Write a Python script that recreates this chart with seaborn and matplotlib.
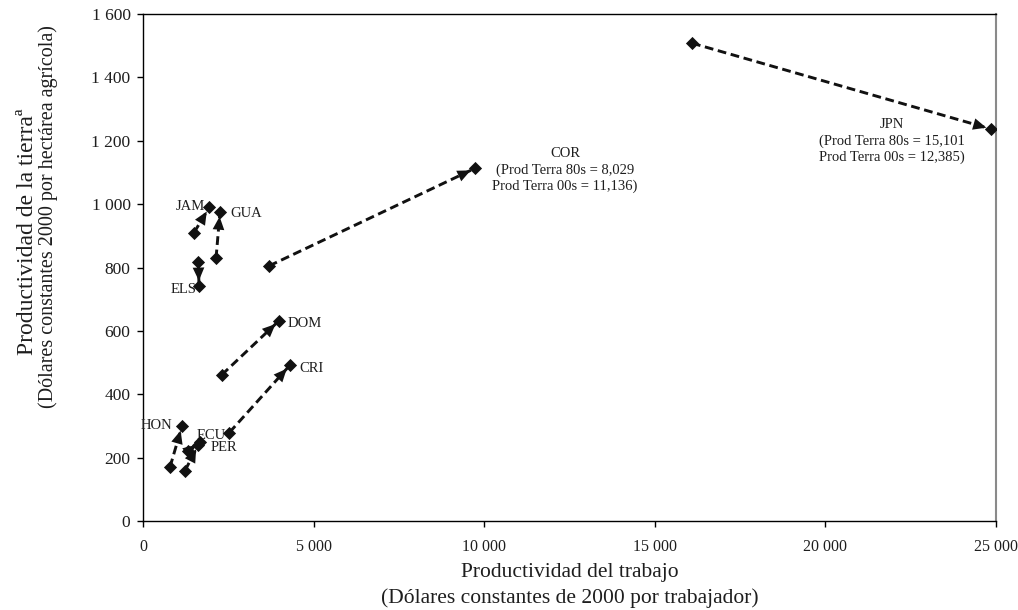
import matplotlib
matplotlib.use("Agg")
import matplotlib.pyplot as plt
from matplotlib.ticker import FuncFormatter, FixedLocator
import pandas as pd
import seaborn as sns

# Country codes and productivity in the 1980s and the 2000s
countries = ["JPN", "COR", "JAM", "GUA", "ELS", "DOM", "CRI", "HON", "ECU", "PER"]
labor_80s = [16090, 3693, 1495, 2140, 1622, 2306, 2530, 791, 1328, 1231]
land_80s = [1508, 805, 910, 829, 818, 461, 279, 170, 221, 159]
labor_00s = [24853, 9731, 1943, 2257, 1641, 3986, 4309, 1143, 1671, 1622]
land_00s = [1237, 1113, 990, 976, 743, 632, 492, 300, 250, 240]

x_ticks = [0, 5000, 10000, 15000, 20000, 25000]
y_ticks = [0, 200, 400, 600, 800, 1000, 1200, 1400, 1600]

# Countries whose land productivity falls outside the vertical range
notes = {
    "COR": "COR\n(Prod Terra 80s = 8,029\nProd Terra 00s = 11,136)",
    "JPN": "JPN\n(Prod Terra 80s = 15,101\nProd Terra 00s = 12,385)",
}

# Label anchor (data units) and horizontal alignment
label_pos = {
    "HON": (860, 300, "right"),
    "ECU": (1583, 270, "left"),
    "PER": (1990, 232, "left"),
    "JAM": (1817, 992, "right"),
    "GUA": (2550, 969, "left"),
    "ELS": (1574, 729, "right"),
    "DOM": (4250, 622, "left"),
    "CRI": (4572, 480, "left"),
    "COR": (12370, 1107, "center"),
    "JPN": (21950, 1199, "center"),
}

rows = []
for c, x0, y0, x1, y1 in zip(countries, labor_80s, land_80s, labor_00s, land_00s):
    rows.append({"country": c, "period": "80s", "labor": x0, "land": y0})
    rows.append({"country": c, "period": "00s", "labor": x1, "land": y1})
df = pd.DataFrame(rows)

sns.set_theme(style="white")
plt.rcParams["font.family"] = ["Liberation Serif", "DejaVu Serif"]
ink = "#111111"
text_col = "#1e1e1e"

fig = plt.figure(figsize=(10.18, 6.10), dpi=100)
ax = fig.add_axes([143 / 1018, 1 - 521 / 610, (996 - 143) / 1018, (521 - 14) / 610])

sns.lineplot(data=df, x="labor", y="land", units="country", estimator=None,
             sort=False, color=ink, linewidth=2.1, linestyle=(0, (3, 1.6)),
             ax=ax, legend=False)
sns.scatterplot(data=df, x="labor", y="land", marker="D", s=45, color=ink,
                edgecolor=ink, linewidth=0, zorder=4, ax=ax, legend=False)

# Arrowheads pointing from the 1980s to the 2000s position
for c, x0, y0, x1, y1 in zip(countries, labor_80s, land_80s, labor_00s, land_00s):
    ax.annotate("", xy=(x1, y1), xytext=(x0, y0),
                arrowprops=dict(arrowstyle="-|>,head_length=0.45,head_width=0.2",
                                mutation_scale=21, lw=0, color=ink,
                                shrinkA=0, shrinkB=3.5), zorder=3)

for c in countries:
    lx, ly, ha = label_pos[c]
    ax.text(lx, ly, notes.get(c, c), ha=ha, va="center", multialignment="center",
            fontsize=10.5, color=text_col, linespacing=1.3)

ax.set_xlim(0, 25000)
ax.set_ylim(0, 1600)
ax.xaxis.set_major_locator(FixedLocator(x_ticks))
ax.yaxis.set_major_locator(FixedLocator(y_ticks))
fmt = FuncFormatter(lambda v, p: f"{int(v):,}".replace(",", " "))
ax.xaxis.set_major_formatter(fmt)
ax.yaxis.set_major_formatter(fmt)
ax.tick_params(axis="both", which="major", direction="out", length=4, width=1,
               color="black", labelcolor=text_col)
ax.tick_params(axis="x", pad=9, labelsize=11.5)
ax.tick_params(axis="y", pad=5, labelsize=12.5)
ax.xaxis.set_ticks_position("bottom")
ax.yaxis.set_ticks_position("left")
ax.set_xlabel("")
ax.set_ylabel("")

for side in ["left", "bottom", "top"]:
    ax.spines[side].set_color("black")
    ax.spines[side].set_linewidth(1.0)
ax.spines["right"].set_color("#8a8a8a")
ax.spines["right"].set_linewidth(1.5)

# Axis titles
fig.text(570 / 1018, 1 - 573 / 610, "Productividad del trabajo",
         ha="center", va="center", fontsize=15.5, color=text_col)
fig.text(570 / 1018, 1 - 598 / 610, "(Dólares constantes de 2000 por trabajador)",
         ha="center", va="center", fontsize=15.5, color=text_col)
fig.text(28 / 1018, 1 - 232 / 610, "Productividad de la tierraª",
         ha="center", va="center", rotation=90, fontsize=17, color=text_col)
fig.text(48 / 1018, 1 - 217 / 610, "(Dólares constantes 2000 por hectárea agrícola)",
         ha="center", va="center", rotation=90, fontsize=14.5, color=text_col)

fig.savefig("out.png", dpi=100, facecolor="white")
